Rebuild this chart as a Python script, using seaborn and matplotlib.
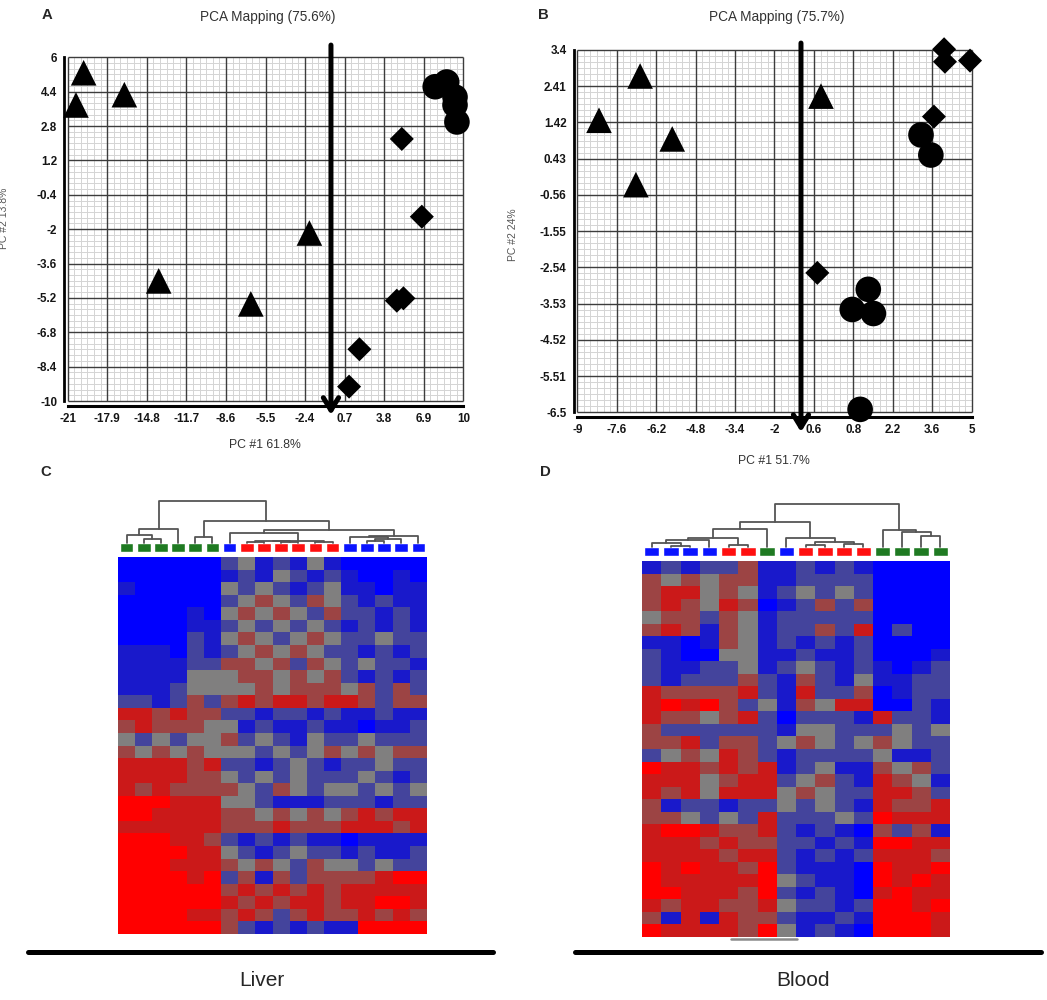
import matplotlib as mpl
mpl.use('Agg')

import matplotlib.pyplot as plt
from matplotlib.colors import LinearSegmentedColormap
from matplotlib.lines import Line2D
import numpy as np
import pandas as pd
import seaborn as sns

sns.set_style('white')
plt.rcParams['font.family'] = ['Liberation Sans', 'DejaVu Sans']

# ---------------- PCA scores ----------------
liver_shape = ['tri'] * 6 + ['dia'] * 6 + ['cir'] * 5
liver_pc1 = [-19.75, -20.35, -16.56, -2.06, -13.87, -6.65,
             5.18, 6.75, 4.79, 5.31, 1.86, 1.05,
             7.8, 8.7, 9.35, 9.35, 9.5]
liver_pc2 = [5.28, 3.78, 4.26, -2.18, -4.41, -5.48,
             2.20, -1.42, -5.33, -5.22, -7.59, -9.33,
             4.63, 4.85, 4.15, 3.78, 2.99]
liver_xticks = [-21, -17.9, -14.8, -11.7, -8.6, -5.5, -2.4, 0.7, 3.8, 6.9, 10]
liver_xlabels = ['-21', '-17.9', '-14.8', '-11.7', '-8.6', '-5.5', '-2.4', '0.7', '3.8', '6.9', '10']
liver_yticks = [6, 4.4, 2.8, 1.2, -0.4, -2, -3.6, -5.2, -6.8, -8.4, -10]
liver_ylabels = ['6', '4.4', '2.8', '1.2', '-0.4', '-2', '-3.6', '-5.2', '-6.8', '-8.4', '-10']

blood_shape = ['tri'] * 5 + ['dia'] * 5 + ['cir'] * 6
blood_pc1 = [-6.77, -8.23, -5.63, -6.92, -0.35,
             4.02, 4.05, 4.94, 3.66, -0.48,
             3.20, 3.55, 1.33, 0.76, 1.51, 1.04]
blood_pc2 = [2.69, 1.48, 0.97, -0.28, 2.14,
             3.42, 3.08, 3.11, 1.58, -2.69,
             1.08, 0.53, -3.14, -3.69, -3.80, -6.42]
blood_xticks = [-9, -7.6, -6.2, -4.8, -3.4, -2, -0.6, 0.8, 2.2, 3.6, 5]
blood_xlabels = ['-9', '-7.6', '-6.2', '-4.8', '-3.4', '-2', '0.6', '0.8', '2.2', '3.6', '5']
blood_yticks = [3.4, 2.41, 1.42, 0.43, -0.56, -1.55, -2.54, -3.53, -4.52, -5.51, -6.5]
blood_ylabels = ['3.4', '2.41', '1.42', '0.43', '-0.56', '-1.55', '-2.54', '-3.53', '-4.52', '-5.51', '-6.5']

# ---------------- heatmaps: row bands, B=strong down ... R=strong up ----------------
liver_groups = ['G'] * 6 + ['B'] + ['R'] * 6 + ['B'] * 5
liver_rows = [
    "BBBBBBpgbpbgbBBBBB", "BBBBBBbpbgpbpbBBbB", "bBBBBBgpgpbpgbbBbb",
    "BBBBBBpgmgpmgpbpbb", "BBBBbBgmgmgpmppbpb", "BBBBbbpgpgpgpbpbpb",
    "BBBBpbgmgpgmgppgpp", "bbbBpbpgmgmgppbpbp", "bbbbppmmgmpmgpgppb",
    "bbbbgggmmgmgmpbpbp", "bbbpggggmgmmmgmpmp", "ppbpmpmrmrrmrrmpmm",
    "rrmrmmppbppbpbbpbb", "mrmmmggbpbbpbbBbbp", "gpgpggmpgpbgppgppp",
    "mgmgmgggpgpgmgmgmm", "rrrrmrppbpgpbppgpp", "rrrrmmgpgpgpppgpbp",
    "rmrmmmmgpmgpggpgpg", "RRRrrrggpbbbpppbpp", "RRrrrrmmgmgmgmrmrr",
    "rrrrrrmmmrmmmrrrmr", "RRRrrmpbpbpbbBbbbb", "RRRRrrgpbpgppbpbbp",
    "RRRrrrmgmgpmggpgpp", "RRRRrRpmbmpmmmmrRR", "RRRRRRmrmrmrmrrrrr",
    "RRRRRRrmrmrrmrrRRr", "RRRRrrmrmpmrmmrmrm", "RRRRRRmpbpbpbbRRRR",
]
blood_groups = ['B'] * 4 + ['R'] * 2 + ['G'] + ['B'] + ['R'] * 4 + ['G'] * 4
blood_rows = [
    "bpbppmbbpbpbBBBB", "mgmgmmbbppppBBBB", "mrrgmgbpgpgpBBBB",
    "mrmgrmBbpmpmBBBB", "gmmpmgbpppppBBBB", "mrmbmgbppmprBpBB",
    "bbBbmgbpbpbpBBBB", "pbBBggbbpbbpBBBb", "pbbppgbpgpbpbBbp",
    "pbpppmpbmpbgbbpp", "rmmmmrpbrppmBbpp", "rRrRmpgbmgrrBBpb",
    "rmmgmrpBpppbrppb", "mppppppbggpppgpg", "mmrpmmpgmgpgmgpp",
    "pgmgrmpbppppgbbp", "Rrrmrmrbpgbbmgmp", "rrrgmrrpgmpbrmgb",
    "rmrgrrrgmgpprrmp", "mbppbppgpgpbrmmr", "mmgpgprpppgpRrrr",
    "rRRrmmrpbpbBmpmb", "rrrmrmmppbpbRRrr", "rrrrmrrpbpbprrrm",
    "RrRrrmRpbbbBRrrR", "RrrrrrRgpbbBRrRr", "RRrrrmRpbpbBrRrr",
    "rmrrmmrgppbpRRrR", "mbrbrmmpbbpbRRRr", "RrrrrmRgbpbBRRRr",
]
levels = {'B': -1.0, 'b': -0.7, 'p': -0.35, 'g': 0.0, 'm': 0.35, 'r': 0.7, 'R': 1.0}
group_colors = {'G': '#1f7a22', 'B': '#0a14ff', 'R': '#ff1010'}

# ---------------- cluster trees: (left, right, height) ----------------
liver_tree = (((0, (1, 2, 0.094), 0.195), 3, 0.34),
              ((4, 5, 0.156),
               ((6, (((7, 8, 0.03), (9, 10, 0.035), 0.05), (11, 12, 0.04), 0.0625), 0.234),
                ((13, ((14, 15, 0.05), 16, 0.09), 0.14), 17, 0.18), 0.31), 0.53), 1.0)
blood_tree = ((((((0, (1, 2, 0.03), 0.1), 3, 0.17), (4, 5, 0.04), 0.2), 6, 0.41),
               (7, ((8, 9, 0.04), (10, 11, 0.06), 0.11), 0.22), 0.57),
              (12, (13, (14, 15, 0.25), 0.35), 0.39), 1.0)

marker_map = {'tri': '^', 'dia': 'D', 'cir': 'o'}
size_map = {'tri': 340, 'dia': 150, 'cir': 340}

fig = plt.figure(figsize=(10.47, 10.0), dpi=100)


def px_axes(x0, y0, x1, y1):
    return fig.add_axes([x0 / 1047, 1 - y1 / 1000, (x1 - x0) / 1047, (y1 - y0) / 1000])


def pca_panel(ax, pc1, pc2, shape, xt, xl, yt, yl, arrow_x, arrow_top, arrow_tip):
    df = pd.DataFrame({'pc1': pc1, 'pc2': pc2, 'shape': shape})
    sns.scatterplot(data=df, x='pc1', y='pc2', style='shape', markers=marker_map,
                    size='shape', sizes=size_map, color='black', edgecolor='none',
                    linewidth=0, legend=False, ax=ax, zorder=3)
    for coll in ax.collections:
        coll.set_clip_on(False)
    x0, x1 = min(xt), max(xt)
    y0, y1 = min(yt), max(yt)
    ax.set_xticks(xt, xl)
    ax.set_yticks(yt, yl)
    ax.set_xlim(x0, x1)
    ax.set_ylim(y0, y1)
    ax.grid(False)
    # graph paper: light sub-grid first, dark main grid on top of it
    xs = sorted(xt)
    ys = sorted(yt)
    xminor = np.concatenate([np.linspace(a, b, 7)[1:-1] for a, b in zip(xs[:-1], xs[1:])])
    yminor = np.concatenate([np.linspace(a, b, 7)[1:-1] for a, b in zip(ys[:-1], ys[1:])])
    ax.vlines(xminor, y0, y1, color='#d4d4d4', lw=0.7, zorder=0.2)
    ax.hlines(yminor, x0, x1, color='#d4d4d4', lw=0.7, zorder=0.2)
    ax.vlines(xs, y0, y1, color='#3c3c3c', lw=1.0, zorder=0.4, clip_on=False)
    ax.hlines(ys, x0, x1, color='#3c3c3c', lw=1.0, zorder=0.4, clip_on=False)
    for s in ['top', 'right']:
        ax.spines[s].set_visible(False)
    ax.spines['left'].set_position(('outward', 2.7))
    ax.spines['bottom'].set_position(('outward', 3.6))
    ax.spines['left'].set_linewidth(2.0)
    ax.spines['bottom'].set_linewidth(2.2)
    ax.spines['left'].set_color('black')
    ax.spines['bottom'].set_color('black')
    ax.tick_params(which='major', length=3, width=1.5, color='black',
                   labelsize=8.4, labelcolor='#151515', pad=2)
    for lab in ax.get_xticklabels() + ax.get_yticklabels():
        lab.set_fontweight('bold')
    ax.set_xlabel('')
    ax.set_ylabel('')
    ax.annotate('', xy=(arrow_x, arrow_tip), xytext=(arrow_x, arrow_top),
                arrowprops=dict(arrowstyle='->, head_length=0.9, head_width=0.55',
                                lw=3.6, color='black', shrinkA=0, shrinkB=0),
                annotation_clip=False, zorder=6)


def draw_tree(ax, node):
    if isinstance(node, int):
        return node + 0.5, 0.0
    left, right, h = node
    xl, hl = draw_tree(ax, left)
    xr, hr = draw_tree(ax, right)
    ax.plot([xl, xl, xr, xr], [hl, h, h, hr], color='#555555', lw=1.3, clip_on=False)
    return (xl + xr) / 2, h


def heat_panel(rows, groups, tree, hx0, hx1, dend_top, sq_top, sq_bot, heat_top, heat_bot):
    n = len(groups)
    mat = np.array([[levels[c] for c in row] for row in rows])
    ax_h = px_axes(hx0, heat_top, hx1, heat_bot)
    sns.heatmap(mat, ax=ax_h, cmap=cmap, vmin=-1, vmax=1, cbar=False,
                xticklabels=False, yticklabels=False)
    ax_s = px_axes(hx0, sq_top, hx1, sq_bot)
    ax_s.bar(np.arange(n) + 0.5, 1, width=0.8, color=[group_colors[g] for g in groups])
    ax_s.set_xlim(0, n)
    ax_s.set_ylim(0, 1)
    ax_s.axis('off')
    ax_d = px_axes(hx0, dend_top, hx1, sq_top)
    draw_tree(ax_d, tree)
    ax_d.set_xlim(0, n)
    ax_d.set_ylim(0, 1)
    ax_d.axis('off')


cmap = LinearSegmentedColormap.from_list(
    'bgr', [(0.0, '#0000ff'), (0.25, '#2a2aa8'), (0.5, '#808080'), (0.75, '#a82a2a'), (1.0, '#ff0000')])

ax_a = px_axes(67.7, 57.3, 463.3, 401)
pca_panel(ax_a, liver_pc1, liver_pc2, liver_shape, liver_xticks, liver_xlabels,
          liver_yticks, liver_ylabels, -0.37, 6.57, -10.65)
ax_b = px_axes(577.3, 50, 971.7, 412.3)
pca_panel(ax_b, blood_pc1, blood_pc2, blood_shape, blood_xticks, blood_xlabels,
          blood_yticks, blood_ylabels, -1.06, 3.59, -7.04)

heat_panel(liver_rows, liver_groups, liver_tree, 118, 427, 501, 543.3, 552, 557, 934)
heat_panel(blood_rows, blood_groups, blood_tree, 642, 950, 504, 547, 555.5, 561, 937)

# titles, labels, panel letters
fig.text(268 / 1047, 1 - 17 / 1000, 'PCA Mapping (75.6%)', ha='center', va='center', fontsize=9.8, color='#333333')
fig.text(777 / 1047, 1 - 17 / 1000, 'PCA Mapping (75.7%)', ha='center', va='center', fontsize=9.8, color='#333333')
fig.text(265 / 1047, 1 - 445 / 1000, 'PC #1 61.8%', ha='center', va='center', fontsize=8.8, color='#333333')
fig.text(774 / 1047, 1 - 461 / 1000, 'PC #1 51.7%', ha='center', va='center', fontsize=8.8, color='#333333')
fig.text(9.5 / 1047, 1 - 218 / 1000, 'PC #2 13.8%', rotation=90, ha='right', va='center', fontsize=7.5, color='#555555')
fig.text(518 / 1047, 1 - 235 / 1000, 'PC #2 24%', rotation=90, ha='right', va='center', fontsize=7.5, color='#555555')
for letter, x, y in [('A', 47, 15), ('B', 543, 15), ('C', 46, 472), ('D', 545, 472)]:
    fig.text(x / 1047, 1 - y / 1000, letter, ha='center', va='center', fontsize=10.7, fontweight='bold')

# small grey bar under blood heatmap, tissue bars and names
fig.add_artist(Line2D([731 / 1047, 797 / 1047], [1 - 939 / 1000] * 2, color='#8a8a8a', lw=1.8))
fig.add_artist(Line2D([28 / 1047, 493 / 1047], [1 - 952 / 1000] * 2, color='black', lw=3.6))
fig.add_artist(Line2D([575 / 1047, 1041 / 1047], [1 - 952 / 1000] * 2, color='black', lw=3.6))
fig.text(262 / 1047, 1 - 980 / 1000, 'Liver', ha='center', va='center', fontsize=15)
fig.text(803 / 1047, 1 - 980 / 1000, 'Blood', ha='center', va='center', fontsize=15)

fig.savefig('out.png', dpi=100, facecolor='white')
